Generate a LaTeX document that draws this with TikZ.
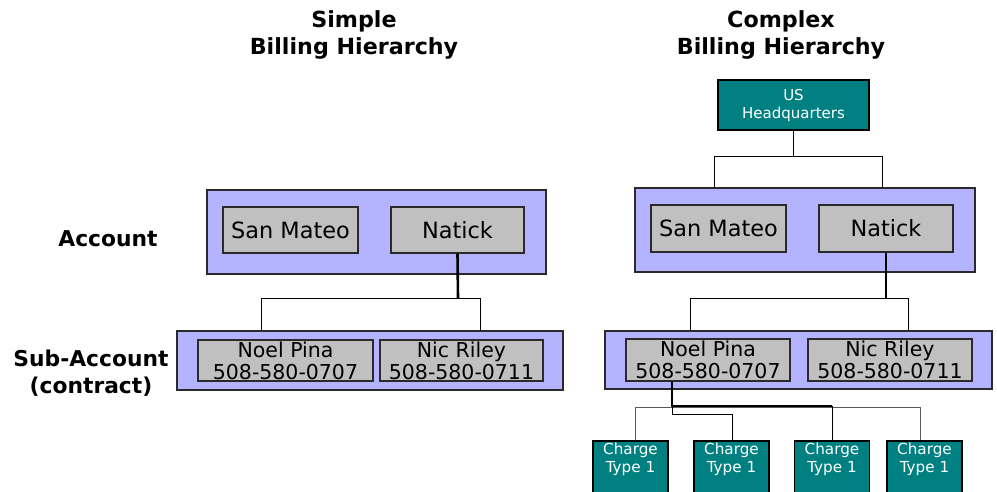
\documentclass[tikz,border=0pt]{standalone}
\usepackage{fontspec}
\setmainfont{DejaVu Sans}
\definecolor{lav}{HTML}{B3B3FF}
\definecolor{boxgray}{HTML}{C0C0C0}
\definecolor{tealc}{HTML}{008080}
\definecolor{edge}{HTML}{2A2A2A}
\begin{document}
\begin{tikzpicture}[x=1pt,y=-1pt,
  outer/.style={draw=edge,line width=1.3pt,fill=lav,inner sep=0pt},
  inner/.style={draw=edge,line width=1.3pt,fill=boxgray,inner sep=0pt,font=\fontsize{22.4}{24}\selectfont,align=center},
  twoline/.style={font=\fontsize{20.5}{22}\selectfont},
  teal/.style={draw=black,line width=1.1pt,fill=tealc,inner sep=0pt,text=white,align=center},
  title/.style={font=\bfseries\fontsize{22.2}{27}\selectfont,align=center},
  side/.style={font=\bfseries\fontsize{21.8}{27}\selectfont,align=center},
  conn/.style={draw=black,line width=0.8pt},
  thick conn/.style={draw=black,line width=2.6pt},
  gconn/.style={draw=black!65,line width=1pt}]
\clip (0,0) rectangle (997,491);
\fill[white] (0,0) rectangle (997,491);
% titles
\node[title] (t1) at (354,35) {Simple\\Billing Hierarchy};
\node[title] (t2) at (781,35) {Complex\\Billing Hierarchy};
\node[side] (lab1) at (108,239) {Account};
\node[side] (lab2) at (91,373) {Sub-Account\\(contract)};
% left
\node[outer,minimum width=339,minimum height=84] (acc1) at (376.5,232) {};
\node[inner,minimum width=135,minimum height=46] (sm1) at (290.5,230) {San Mateo};
\node[inner,minimum width=133,minimum height=46] (nat1) at (457.5,230) {Natick};
\node[outer,minimum width=386,minimum height=59] (sub1) at (370,360.5) {};
\node[inner,twoline,minimum width=175,minimum height=41] (np1) at (285.5,360.5) {Noel Pina\\508-580-0707};
\node[inner,twoline,minimum width=163,minimum height=41] (nr1) at (461.5,360.5) {Nic Riley\\508-580-0711};
\coordinate (b1) at (458,298);
\coordinate (b1l) at (261,298);
\coordinate (b1r) at (480,298);
\draw[thick conn] (nat1.south) -- (b1);
\draw[conn] (b1l) -- (b1r);
\draw[conn] (b1l) -- (b1l |- sub1.north);
\draw[conn] (b1r) -- (b1r |- sub1.north);
% right
\node[teal,minimum width=151,minimum height=50,font=\fontsize{15}{18}\selectfont] (hq) at (793.5,105) {US\\Headquarters};
\node[outer,minimum width=340,minimum height=84] (acc2) at (805,230) {};
\node[inner,minimum width=135,minimum height=47] (sm2) at (718.5,228.5) {San Mateo};
\node[inner,minimum width=134,minimum height=47] (nat2) at (886,228.5) {Natick};
\node[outer,minimum width=387,minimum height=58] (sub2) at (798.5,360) {};
\node[inner,twoline,minimum width=164,minimum height=42] (np2) at (708,360) {Noel Pina\\508-580-0707};
\node[inner,twoline,minimum width=164,minimum height=42] (nr2) at (890,360) {Nic Riley\\508-580-0711};
\coordinate (h1) at (793.5,156);
\coordinate (h1l) at (714,156);
\coordinate (h1r) at (882,156);
\draw[conn] (hq.south) -- (h1);
\draw[conn] (h1l) -- (h1r);
\draw[conn] (h1l) -- (h1l |- acc2.north);
\draw[conn] (h1r) -- (h1r |- acc2.north);
\coordinate (b2) at (886,298);
\coordinate (b2l) at (690,298);
\coordinate (b2r) at (908,298);
\draw[thick conn] (nat2.south) -- (b2);
\draw[conn] (b2l) -- (b2r);
\draw[conn] (b2l) -- (b2l |- sub2.north);
\draw[conn] (b2r) -- (b2r |- sub2.north);
% charge types
\foreach \n/\x in {c1/630.5,c2/731.5,c3/832,c4/924.5}{
  \node[teal,minimum width=75,minimum height=54,font=\fontsize{15.2}{18}\selectfont] (\n) at (\x,468) {Charge\\Type 1\\[3pt]};
}
\coordinate (g0) at (635,407);
\coordinate (g1) at (920,407);
\draw[gconn] (g0) -- (g1);
\draw[gconn] (g0) -- (g0 |- c1.north);
\draw[gconn] (g1) -- (g1 |- c4.north);
\coordinate (k0) at (672,389);
\coordinate (k1) at (672,406);
\coordinate (k2) at (832,406);
\coordinate (k3) at (672,414);
\coordinate (k4) at (732,414);
\draw[conn] (k1) -- (k3) -- (k4) -- (k4 |- c2.north);
\draw[conn] (k2) -- (k2 |- c3.north);
\draw[thick conn] (np2.south -| k0) -- (k1) -- (k2);
\end{tikzpicture}
\end{document}
